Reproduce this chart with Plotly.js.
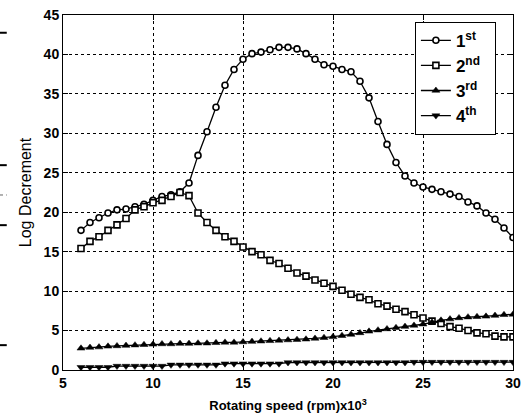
<!DOCTYPE html>
<html>
<head>
<meta charset="utf-8">
<script src="https://cdn.plot.ly/plotly-3.0.1.min.js"></script>
<style>html,body{margin:0;padding:0;background:#fff;}#chart{width:525px;height:419px;}</style>
</head>
<body>
<div id="chart"></div>
<script>
var speed = [6,6.5,7,7.5,8,8.5,9,9.5,10,10.5,11,11.5,12,12.5,13,13.5,14,14.5,15,15.5,16,16.5,17,17.5,18,18.5,19,19.5,20,20.5,21,21.5,22,22.5,23,23.5,24,24.5,25,25.5,26,26.5,27,27.5,28,28.5,29,29.5,30];
var mode1 = [17.7,18.7,19.3,19.9,20.3,20.4,20.7,21.0,21.5,22.0,22.2,22.6,23.7,27.2,30.2,33.3,36.1,38.1,39.4,40.1,40.3,40.6,40.9,40.9,40.7,40.1,39.4,38.7,38.5,38.1,37.8,36.6,34.5,31.5,28.6,26.3,24.6,23.7,23.2,22.9,22.6,22.3,22.0,21.3,20.8,19.9,19.1,18.0,16.8];
var mode2 = [15.4,16.3,16.9,17.7,18.4,19.2,20.3,20.7,21.2,21.5,22.0,22.5,22.1,19.9,18.7,17.7,16.9,16.3,15.6,15.0,14.6,13.9,13.5,12.9,12.3,11.9,11.4,11.0,10.6,10.1,9.6,9.2,8.9,8.4,8.1,7.7,7.4,7.0,6.6,6.2,5.9,5.5,5.3,5.0,4.7,4.6,4.3,4.2,4.2];
var mode3 = [2.75,2.85,2.9,3.0,3.05,3.1,3.15,3.2,3.25,3.3,3.3,3.35,3.35,3.4,3.4,3.45,3.5,3.5,3.55,3.6,3.65,3.7,3.75,3.8,3.85,3.9,4.0,4.1,4.2,4.35,4.5,4.7,4.9,5.05,5.2,5.35,5.5,5.65,5.8,6.05,6.3,6.45,6.6,6.7,6.75,6.8,6.9,7.0,7.05];
var mode4 = [0.35,0.35,0.35,0.35,0.5,0.5,0.5,0.5,0.5,0.5,0.65,0.65,0.65,0.65,0.65,0.65,0.8,0.8,0.8,0.8,0.8,0.8,0.8,0.95,0.95,0.95,0.95,0.95,0.95,0.95,0.95,0.95,0.95,0.95,0.95,0.95,0.95,1.0,1.0,1.0,1.0,1.0,1.0,1.0,1.0,1.0,1.0,1.0,1.0];
var seriesNames = ['<b>1<sup>st</sup></b>&nbsp;&nbsp;','<b>2<sup>nd</sup></b>&nbsp;&nbsp;','<b>3<sup>rd</sup></b>&nbsp;&nbsp;','<b>4<sup>th</sup></b>&nbsp;&nbsp;'];
var xTicks = [5,10,15,20,25,30];
var xTickText = ['<b>5</b>','<b>10</b>','<b>15</b>','<b>20</b>','<b>25</b>','<b>30</b>'];
var yTicks = [0,5,10,15,20,25,30,35,40,45];
var yTickText = ['<b>0</b>','<b>5</b>','<b>10</b>','<b>15</b>','<b>20</b>','<b>25</b>','<b>30</b>','<b>35</b>','<b>40</b>','<b>45</b>'];

var FONT = 'Liberation Sans, Arial, Helvetica, sans-serif';
function tr(y, name, sym, fill, size, lw) {
  return {x: speed, y: y, name: name, type: 'scatter', mode: 'lines+markers',
    line: {color: '#000', width: 1.3},
    marker: {symbol: sym, size: size, color: fill, line: {color: '#000', width: lw}}};
}
var data = [
  tr(mode1, seriesNames[0], 'circle', '#fff', 6, 1.6),
  tr(mode2, seriesNames[1], 'square', '#fff', 6, 1.6),
  tr(mode3, seriesNames[2], 'triangle-up', '#000', 7, 0.5),
  tr(mode4, seriesNames[3], 'triangle-down', '#000', 7, 0.5)
];
var axisCommon = {
  showline: true, mirror: 'ticks', linecolor: '#000', linewidth: 1,
  ticks: 'inside', ticklen: 5, tickcolor: '#000',
  showgrid: true, gridcolor: '#000', gridwidth: 1, griddash: 'dot',
  zeroline: false, tickfont: {family: FONT, size: 14, color: '#000'}
};
var layout = {
  width: 525, height: 419,
  margin: {l: 63, r: 12, t: 15, b: 49},
  paper_bgcolor: '#fff', plot_bgcolor: '#fff',
  showlegend: true,
  legend: {x: 0.782, y: 0.981, xanchor: 'left', yanchor: 'top',
    bgcolor: '#fff', bordercolor: '#000', borderwidth: 1,
    font: {family: FONT, size: 17, color: '#000'}, itemwidth: 30, tracegroupgap: 0},
  xaxis: Object.assign({}, axisCommon, {range: [5, 30], tickvals: xTicks, ticktext: xTickText,
    title: {text: '<b>Rotating speed (rpm)x10<sup>3</sup></b>', standoff: 11,
      font: {family: FONT, size: 13, color: '#000'}}}),
  yaxis: Object.assign({}, axisCommon, {range: [0, 45], tickvals: yTicks, ticktext: yTickText,
    title: {text: 'Log Decrement', standoff: 8,
      font: {family: FONT, size: 16, color: '#000'}}}),
  shapes: [
    {type: 'line', xref: 'paper', yref: 'paper', x0: -0.14, x1: -0.125, y0: 0.95, y1: 0.95, line: {color: '#000', width: 2}},
    {type: 'line', xref: 'paper', yref: 'paper', x0: -0.14, x1: -0.125, y0: 0.577, y1: 0.577, line: {color: '#000', width: 2}},
    {type: 'line', xref: 'paper', yref: 'paper', x0: -0.14, x1: -0.125, y0: 0.493, y1: 0.493, line: {color: '#666', width: 1, dash: 'dot'}},
    {type: 'line', xref: 'paper', yref: 'paper', x0: -0.14, x1: -0.125, y0: 0.408, y1: 0.408, line: {color: '#000', width: 2}},
    {type: 'line', xref: 'paper', yref: 'paper', x0: -0.14, x1: -0.125, y0: 0.07, y1: 0.07, line: {color: '#000', width: 2}}
  ]
};
Plotly.newPlot('chart', data, layout, {displayModeBar: false, staticPlot: true});
</script>
</body>
</html>
